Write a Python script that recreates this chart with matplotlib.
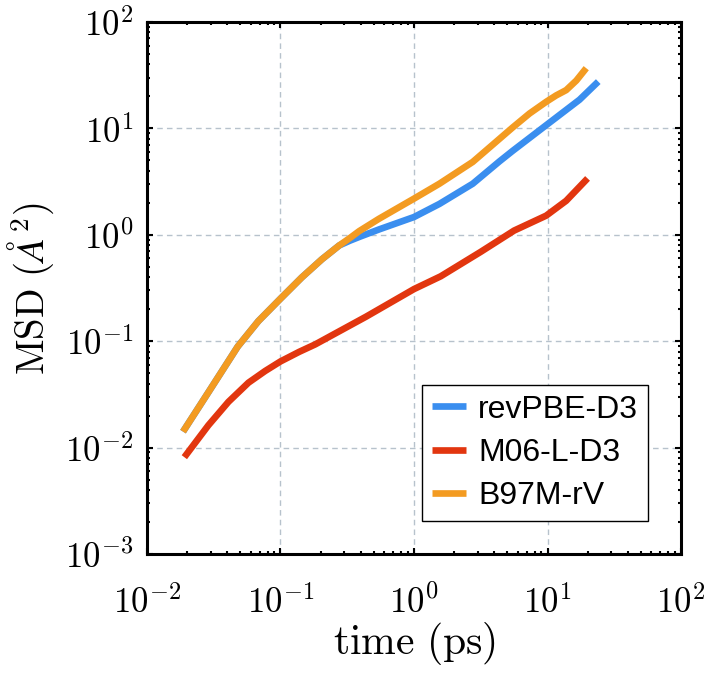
import numpy as np
import matplotlib
matplotlib.use('Agg')
import matplotlib.pyplot as plt

# values (time in ps, MSD in A^2)
t_b97 = [0.01862, 0.02884, 0.04786, 0.06839, 0.1, 0.1445, 0.2042, 0.2754, 0.3311, 0.3890, 0.5458,
         1.0, 1.549, 2.754, 5.495, 7.328, 9.772, 11.61, 13.80, 16.44, 19.50]
msd_b97 = [0.01413, 0.03311, 0.08913, 0.1549, 0.2512, 0.3981, 0.5888, 0.7943, 0.9333, 1.084, 1.413,
           2.188, 3.020, 4.842, 10.23, 13.80, 17.78, 20.42, 22.91, 28.18, 36.81]

t_rev = [0.01862, 0.02884, 0.04786, 0.06839, 0.1, 0.1445, 0.2042, 0.2754, 0.3311, 0.3890, 0.5458,
         1.0, 1.549, 2.754, 4.365, 5.495, 9.772, 17.38, 23.99]
msd_rev = [0.01413, 0.03311, 0.08913, 0.1549, 0.2512, 0.3981, 0.5888, 0.7943, 0.8810, 0.9550, 1.122,
           1.469, 1.950, 3.020, 4.898, 6.166, 10.72, 18.62, 27.54]

t_m06 = [0.01905, 0.02884, 0.04074, 0.05754, 0.07674, 0.1, 0.1380, 0.1820, 0.4365,
         1.0, 1.585, 3.162, 5.623, 9.772, 13.80, 19.95]
msd_m06 = [0.008128, 0.01622, 0.02692, 0.04074, 0.05248, 0.06457, 0.07943, 0.09333, 0.1698,
           0.3090, 0.4074, 0.6918, 1.096, 1.514, 2.089, 3.388]

labels = ['revPBE-D3', 'M06-L-D3', 'B97M-rV']
colors = ['#3A8EEF', '#E2360F', '#F39B21']

plt.rcParams['mathtext.fontset'] = 'cm'
plt.rcParams['font.family'] = 'serif'
plt.rcParams['font.serif'] = ['cmr10', 'DejaVu Serif']
plt.rcParams['axes.formatter.use_mathtext'] = True

fig = plt.figure(figsize=(7.08, 6.73), dpi=100)
ax = fig.add_axes([0.2076, 0.1768, 0.7543, 0.7905])

line_kw = dict(lw=4.8, solid_capstyle='butt', solid_joinstyle='round')
ax.plot(t_rev, msd_rev, color=colors[0], label=labels[0], **line_kw)
ax.plot(t_m06, msd_m06, color=colors[1], label=labels[1], **line_kw)
ax.plot(t_b97, msd_b97, color=colors[2], label=labels[2], **line_kw)

ax.set_xscale('log')
ax.set_yscale('log')
ax.set_xlim(1e-2, 1e2)
ax.set_ylim(1e-3, 1e2)

ax.grid(True, which='major', ls=(0, (4, 3)), color='#b7c2cc', lw=1.0)
ax.tick_params(which='both', direction='in', top=True, right=True, width=1.5)
ax.tick_params(which='major', length=4.5, labelsize=25)
ax.tick_params(which='minor', length=2.5)
ax.tick_params(axis='x', which='major', pad=22)
ax.tick_params(axis='y', which='major', pad=10)
for s in ax.spines.values():
    s.set_linewidth(2.2)

ax.set_xlabel(r'$\mathrm{time\ (ps)}$', fontsize=30, labelpad=0)
ax.set_ylabel(r'$\mathrm{MSD}\ (\AA^2)$', fontsize=28, labelpad=6)

leg = ax.legend(loc='lower right', bbox_to_anchor=(0.938, 0.062), borderaxespad=0,
                prop={'family': 'Liberation Sans', 'size': 23}, handlelength=1.05,
                handletextpad=0.4, labelspacing=0.42, borderpad=0.3, fancybox=False,
                framealpha=1)
leg.get_frame().set_edgecolor('black')
leg.get_frame().set_linewidth(1.0)

fig.savefig('out.png', dpi=100)
